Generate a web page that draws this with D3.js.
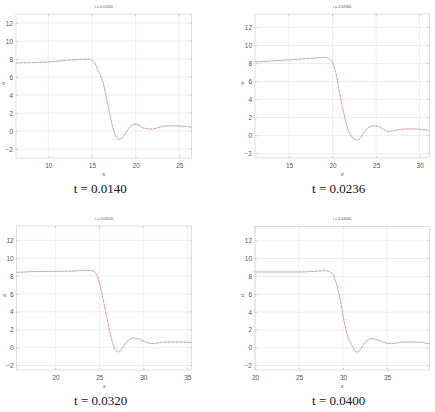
<!DOCTYPE html>
<html>
<head>
<meta charset="utf-8">
<script src="https://cdn.jsdelivr.net/npm/d3@7"></script>
<style>
  html, body { margin: 0; padding: 0; background: #fff; }
  svg { display: block; }
</style>
</head>
<body>
<svg id="chart" width="435" height="412"></svg>
<script>
// ---- data ----
const titles   = ["t = 0.01400", "t = 0.02360", "t = 0.03200", "t = 0.04000"];
const captions = ["t = 0.0140", "t = 0.0236", "t = 0.0320", "t = 0.0400"];

const x1 = [6.3, 10.0, 12.1, 14.6, 15.2, 15.7, 16.3, 16.7, 17.1, 17.5, 18.15, 18.6, 19.4, 20.0, 20.9, 21.9, 22.8, 23.6, 25.1, 26.4];
const u1 = [7.56, 7.67, 7.86, 7.97, 7.67, 6.76, 5.29, 3.45, 1.61, 0.0, -0.96, -0.6, 0.5, 0.77, 0.33, 0.22, 0.44, 0.58, 0.55, 0.44];

const x2 = [11.1, 14.9, 17.2, 19.1, 19.7, 20.07, 20.46, 20.8, 21.2, 21.6, 22.2, 22.75, 23.0, 23.7, 24.3, 24.85, 25.6, 26.4, 27.1, 28.3, 29.4, 31.1];
const u2 = [8.17, 8.4, 8.55, 8.67, 8.48, 7.92, 6.6, 4.75, 2.88, 1.2, -0.11, -0.48, -0.44, 0.45, 1.0, 1.09, 0.83, 0.45, 0.56, 0.72, 0.72, 0.56];

const x3 = [15.6, 17.5, 21.3, 23.55, 24.3, 24.7, 25.07, 25.4, 25.8, 26.2, 26.6, 27.15, 27.5, 28.1, 28.85, 29.4, 30.4, 31.1, 32.3, 34.2, 35.5];
const u3 = [8.42, 8.5, 8.54, 8.65, 8.57, 8.12, 7.0, 5.5, 3.63, 1.75, 0.26, -0.49, -0.19, 0.63, 1.08, 1.0, 0.56, 0.45, 0.63, 0.63, 0.56];

const x4 = [20.0, 24.9, 26.8, 27.95, 28.5, 28.9, 29.3, 29.66, 30.0, 30.4, 31.0, 31.55, 31.9, 32.5, 33.26, 33.8, 34.8, 35.5, 36.7, 38.2, 39.8];
const u4 = [8.5, 8.5, 8.57, 8.65, 8.5, 8.12, 7.0, 5.5, 3.63, 1.75, 0.26, -0.49, -0.3, 0.63, 1.0, 0.93, 0.56, 0.45, 0.63, 0.63, 0.45];

const xTicks1 = [10, 15, 20, 25];
const xTicks2 = [15, 20, 25, 30];
const xTicks3 = [20, 25, 30, 35];
const xTicks4 = [20, 25, 30, 35];
const yTicks  = [-2, 0, 2, 4, 6, 8, 10, 12];

const xDomains = [[6.3, 26.4], [11.1, 31.1], [15.6, 35.5], [20, 39.8]];
const yDomains = [[-3, 13], [-2.5, 13.5], [-2.5, 13.6], [-2.5, 13.6]];

// ---- layout ----
const boxes = [
  {l: 16,   r: 191.5, t: 14,    b: 158},
  {l: 255,  r: 429.3, t: 14,    b: 158},
  {l: 16.7, r: 191.7, t: 226,   b: 370},
  {l: 255,  r: 429.3, t: 226.5, b: 370}
];
const series = [[x1, u1], [x2, u2], [x3, u3], [x4, u4]];
const xTickSets = [xTicks1, xTicks2, xTicks3, xTicks4];

const svg = d3.select("#chart");

boxes.forEach((bx, i) => {
  const xs = d3.scaleLinear().domain(xDomains[i]).range([bx.l, bx.r]);
  const ys = d3.scaleLinear().domain(yDomains[i]).range([bx.b, bx.t]);
  const g = svg.append("g");
  const cx = (bx.l + bx.r) / 2;

  // grid
  g.selectAll(".gx").data(xTickSets[i]).enter().append("line")
    .attr("x1", d => xs(d)).attr("x2", d => xs(d))
    .attr("y1", bx.t).attr("y2", bx.b)
    .attr("stroke", "#e2e2e2").attr("stroke-width", 0.6);
  g.selectAll(".gy").data(yTicks).enter().append("line")
    .attr("x1", bx.l).attr("x2", bx.r)
    .attr("y1", d => ys(d)).attr("y2", d => ys(d))
    .attr("stroke", "#e2e2e2").attr("stroke-width", 0.6);

  // axes (inward ticks, like the reference)
  const ax = d3.axisBottom(xs).tickValues(xTickSets[i]).tickSize(-2).tickPadding(5).tickFormat(d3.format("d"));
  const ay = d3.axisLeft(ys).tickValues(yTicks).tickSize(-2).tickPadding(3).tickFormat(d3.format("d"));
  const gxA = g.append("g").attr("transform", `translate(0,${bx.b})`).call(ax);
  const gyA = g.append("g").attr("transform", `translate(${bx.l},0)`).call(ay);
  [gxA, gyA].forEach(a => {
    a.select(".domain").remove();
    a.selectAll(".tick line").attr("stroke", "#aaa").attr("stroke-width", 0.5);
    a.selectAll(".tick text").attr("fill", "#555")
      .style("font-family", "'Liberation Sans', Arial, sans-serif").style("font-size", "6.5px");
  });
  // top/right ticks
  g.selectAll(".tt").data(xTickSets[i]).enter().append("line")
    .attr("x1", d => xs(d)).attr("x2", d => xs(d))
    .attr("y1", bx.t).attr("y2", bx.t + 2).attr("stroke", "#aaa").attr("stroke-width", 0.5);
  g.selectAll(".rt").data(yTicks).enter().append("line")
    .attr("x1", bx.r).attr("x2", bx.r - 2)
    .attr("y1", d => ys(d)).attr("y2", d => ys(d)).attr("stroke", "#aaa").attr("stroke-width", 0.5);

  // frame
  g.append("rect").attr("x", bx.l).attr("y", bx.t)
    .attr("width", bx.r - bx.l).attr("height", bx.b - bx.t)
    .attr("fill", "none").attr("stroke", "#c8c8c8").attr("stroke-width", 0.6);

  // curve
  const pts = series[i][0].map((x, k) => [x, series[i][1][k]]);
  const line = d3.line().x(d => xs(d[0])).y(d => ys(d[1])).curve(d3.curveMonotoneX);
  g.append("path").datum(pts).attr("d", line)
    .attr("fill", "none").attr("stroke", "#e08cc4").attr("stroke-width", 0.7);
  g.append("path").datum(pts).attr("d", line)
    .attr("fill", "none").attr("stroke", "#9a9a9a").attr("stroke-width", 0.6)
    .attr("stroke-dasharray", "2,2").attr("opacity", 0.8);

  // title
  g.append("text").attr("x", cx).attr("y", bx.t - 6.5)
    .attr("text-anchor", "middle").attr("fill", "#555")
    .style("font-family", "'Liberation Sans', Arial, sans-serif").style("font-size", "3.6px")
    .text(titles[i]);

  // axis labels
  g.append("text").attr("x", cx).attr("y", bx.b + 18)
    .attr("text-anchor", "middle").attr("fill", "#555")
    .style("font-family", "'Liberation Serif', serif").style("font-style", "italic").style("font-size", "6.5px")
    .text("x");
  const ly = (bx.t + bx.b) / 2 - 3;
  g.append("text").attr("transform", `translate(${bx.l - 11},${ly}) rotate(-90)`)
    .attr("text-anchor", "middle").attr("fill", "#555")
    .style("font-family", "'Liberation Serif', serif").style("font-style", "italic").style("font-size", "6.5px")
    .text("u");

  // caption
  g.append("text").attr("x", cx - 3.5).attr("y", bx.b + 35)
    .attr("text-anchor", "middle").attr("fill", "#111")
    .style("font-family", "'Liberation Serif', 'Times New Roman', serif").style("font-size", "13px")
    .text(captions[i]);
});
</script>
</body>
</html>
